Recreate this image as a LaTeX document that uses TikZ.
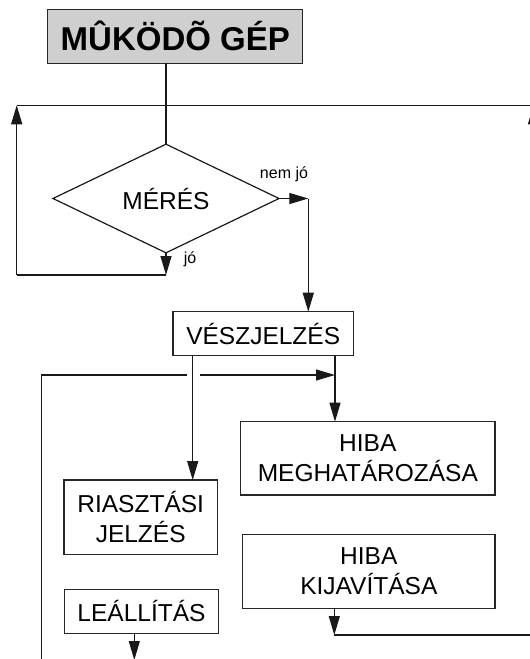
\documentclass[tikz,border=0pt]{standalone}
\usepackage{fontspec}
\setmainfont{Liberation Sans}
\usetikzlibrary{arrows.meta,shapes.geometric}
\begin{document}
\begin{tikzpicture}[x=1pt,y=-1pt,
  box/.style={draw=black!85, line width=1.2pt, rectangle, inner sep=0pt, outer sep=0pt, align=center, font=\fontsize{24.5}{29.5}\selectfont},
  conn/.style={line width=1.2pt, draw=black!90},
  arr/.style={conn, -{Triangle[length=19pt,width=11pt]}},
  lbl/.style={font=\fontsize{16}{19}\selectfont, inner sep=0pt}]
\useasboundingbox (0,0) rectangle (530,659);
\clip (0,0) rectangle (530,659);
% nodes
\node[box, fill=black!19, font=\bfseries\fontsize{33}{40}\selectfont, minimum width=255, minimum height=54] (title) at (175.3,36.3) {MÛKÖDÕ GÉP};
\node[diamond, draw=black!90, line width=1.2pt, inner sep=0pt, outer sep=0pt, minimum width=226, minimum height=83, font=\fontsize{24.5}{29.5}\selectfont] (dia) at (166,198.5) {MÉRÉS};
\node[box, minimum width=180.3, minimum height=44] (vesz) at (263.2,333.7) {VÉSZJELZÉS};
\node[box, minimum width=254.3, minimum height=73.3] (hmeg) at (367.8,458.3) {HIBA\\MEGHATÁROZÁSA};
\node[box, minimum width=153.3, minimum height=74.3] (riasz) at (140.7,517.2) {RIASZTÁSI\\JELZÉS};
\node[box, minimum width=252.3, minimum height=74] (hkij) at (368.8,571.3) {HIBA\\KIJAVÍTÁSA};
\node[box, minimum width=154.4, minimum height=44] (leall) at (141.5,611.3) {LEÁLLÍTÁS};
\node[lbl] (nemjo) at (284,174) {nem jó};
\node[lbl] (jo) at (190,259) {jó};
% coordinates
\coordinate (tbot) at (166,63.3);
\coordinate (ncorner) at (308.3,198.5);
\coordinate (jend) at (166,275);
\coordinate (lbot) at (16.7,275);
\coordinate (ltop) at (16.7,105.3);
\coordinate (rtop) at (533.5,105.3);
\coordinate (rbot) at (533.5,635);
\coordinate (kbot) at (334.3,635);
\coordinate (gapL) at (186.7,375);
\coordinate (gapR) at (200,375);
\coordinate (hstart) at (41.7,375);
\coordinate (hend) at (335,375);
\coordinate (lvbot) at (41.7,665);
\coordinate (leend) at (134.3,660);
% connectors
\draw[conn] (tbot) -- (dia.north);
\draw[arr] (dia.east) -- (ncorner);
\draw[arr] (ncorner) -- (ncorner |- vesz.north);
\draw[arr] (dia.south) -- (jend);
\draw[conn] (jend) -- (lbot);
\draw[arr] (lbot) -- (ltop);
\draw[conn] (ltop) -- (rtop);
\draw[arr] (rbot) -- (rtop);
\draw[conn] (kbot) -- (rbot);
\draw[arr] (kbot |- hkij.south) -- (kbot);
\draw[arr] (riasz.north -| 192.7,0) ++(0,0) coordinate (va) (va |- vesz.south) -- (va);
\draw[arr] (hend |- vesz.south) -- (hend |- hmeg.north);
\draw[conn] (lvbot) -- (hstart) -- (gapL);
\draw[arr] (gapR) -- (hend);
\draw[arr] (leall.south -| leend) -- (leend);
\end{tikzpicture}
\end{document}
